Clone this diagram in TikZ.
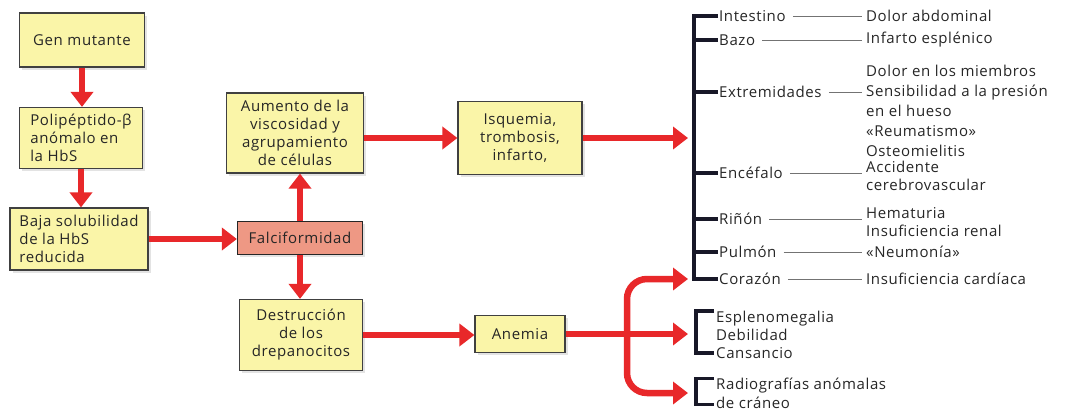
\documentclass[tikz,border=0pt]{standalone}
\usepackage{fontspec}
\setmainfont{Open Sans}[LetterSpace=4]
\usetikzlibrary{arrows.meta,shadows}
\definecolor{boxyellow}{RGB}{250,245,168}
\definecolor{boxsalmon}{RGB}{238,152,132}
\definecolor{arrowred}{RGB}{232,40,42}
\definecolor{brackdark}{RGB}{24,24,40}

\begin{document}
\begin{tikzpicture}[x=1pt, y=-1pt,
		box_style/.style={draw=black!75, line width=1.2pt, fill=boxyellow, inner sep=3pt,
			font=\fontsize{15}{18}\selectfont, text=black!85,
			drop shadow={shadow xshift=2.5pt, shadow yshift=-2.5pt, fill=black!22}},
		red_arrow/.style={draw=arrowred, line width=6.5pt, -{Triangle[length=15pt,width=22pt]}},
		brack_line/.style={draw=brackdark, line width=3.4pt},
		organ_style/.style={anchor=west, inner xsep=1pt, inner ysep=2pt, font=\fontsize{15}{18}\selectfont, text=black!85},
		sign_style/.style={anchor=west, inner sep=4pt, align=left, font=\fontsize{15}{20}\selectfont, text=black!85},
		link_style/.style={draw=black!55, line width=0.7pt}]
		
		\useasboundingbox (0,0) rectangle (1067,418);
		
		\node[box_style, minimum width=125pt, minimum height=54pt] (gen) at (82,40) {Gen mutante};
		\node[box_style, minimum width=123pt, minimum height=61pt, align=left] (poli) at (81,138) {Polipéptido-β\\anómalo en\\la HbS};
		\node[box_style, minimum width=138pt, minimum height=62pt, align=left] (baja) at (79,239) {Baja solubilidad\\de la HbS\\reducida};
		\node[box_style, fill=boxsalmon, draw=black!85, minimum width=125pt, minimum height=33pt] (falci) at (300,238) {Falciformidad};
		\node[box_style, minimum width=137pt, minimum height=80pt, align=center] (aumento) at (295,133) {Aumento de la\\viscosidad y\\agrupamiento\\de células};
		\node[box_style, minimum width=123pt, minimum height=71pt, align=center] (destr) at (301,335) {Destrucción\\de los\\drepanocitos};
		\node[box_style, minimum width=124pt, minimum height=73pt, align=center] (isq) at (520,138) {Isquemia,\\trombosis,\\infarto,};
		\node[box_style, minimum width=90pt, minimum height=37pt] (anemia) at (520,334) {Anemia};
		
		\coordinate (brx) at (694,0);
		\coordinate (brxb) at (696,0);
		\coordinate (tipx) at (688,0);
		\coordinate (forkx) at (627,0);
		
		\node[organ_style] (intestino) at (718,16) {Intestino};
		\node[organ_style] (bazo) at (718,40) {Bazo};
		\node[organ_style] (extrem) at (718,92) {Extremidades};
		\node[organ_style] (encef) at (718,173) {Encéfalo};
		\node[organ_style] (rinon) at (718,219) {Riñón};
		\node[organ_style] (pulmon) at (718,252) {Pulmón};
		\node[organ_style] (corazon) at (718,279) {Corazón};
		
		\node[sign_style] (dolorabd) at (862,16) {Dolor abdominal};
		\node[sign_style] (infesp) at (862,40) {Infarto esplénico};
		\node[sign_style] (extremsig) at (862,111) {Dolor en los miembros\\Sensibilidad a la presión\\en el hueso\\«Reumatismo»\\Osteomielitis};
		\node[sign_style, font=\fontsize{15}{18}\selectfont] (accid) at (862,176) {Accidente\\cerebrovascular};
		\node[sign_style, font=\fontsize{15}{18}\selectfont] (hemat) at (862,222) {Hematuria\\Insuficiencia renal};
		\node[sign_style] (neumo) at (862,252) {«Neumonía»};
		\node[sign_style] (inscard) at (862,279) {Insuficiencia cardíaca};
		
		\node[sign_style, inner sep=2pt, font=\fontsize{15}{18}\selectfont] (esplen) at (714,335) {Esplenomegalia\\Debilidad\\Cansancio};
		\node[sign_style, inner sep=2pt, font=\fontsize{15}{19}\selectfont] (radio) at (714,393) {Radiografías anómalas\\de cráneo};
		
		\draw[red_arrow] (gen.south) -- (gen.south |- poli.north);
		\draw[red_arrow] (poli.south) -- (poli.south |- baja.north);
		\draw[red_arrow] (baja.east) -- (baja.east -| falci.west);
		\draw[red_arrow] (falci.north) -- (falci.north |- aumento.south);
		\draw[red_arrow] (falci.south) -- (falci.south |- destr.north);
		\draw[red_arrow] (aumento.east |- isq.west) -- (isq.west);
		\draw[red_arrow] (destr.east) -- (destr.east -| anemia.west);
		\draw[red_arrow] (isq.east) -- (isq.east -| tipx);
		\draw[red_arrow] (anemia.east) -- (anemia.east -| tipx);
		\draw[red_arrow, rounded corners=20pt] (forkx |- anemia.east) -- (forkx |- corazon) -- (corazon -| tipx);
		\draw[red_arrow, rounded corners=20pt] (forkx |- anemia.east) -- (forkx |- radio) -- (radio -| tipx);
		
		\draw[brack_line] (intestino.west) -- (intestino.west -| brx) -- (corazon.west -| brx) -- (corazon.west);
		\foreach \n in {bazo,extrem,encef,rinon,pulmon}
			\draw[brack_line] (\n.west -| brx) -- (\n.west);
		\draw[brack_line] ([yshift=-2pt]esplen.north west) -- ([yshift=-2pt]esplen.north west -| brxb) -- ([yshift=8pt]esplen.south west -| brxb) -- ([yshift=8pt]esplen.south west);
		\draw[brack_line] ([yshift=-3pt]radio.north west) -- ([yshift=-3pt]radio.north west -| brxb) -- ([yshift=6pt]radio.south west -| brxb) -- ([yshift=6pt]radio.south west);
		
		\foreach \a/\b in {intestino/dolorabd,bazo/infesp,extrem/extremsig,encef/accid,rinon/hemat,pulmon/neumo,corazon/inscard}
			\draw[link_style] ([xshift=6pt]\a.east) -- (\a.east -| \b.west);
		
\end{tikzpicture}
\end{document}
